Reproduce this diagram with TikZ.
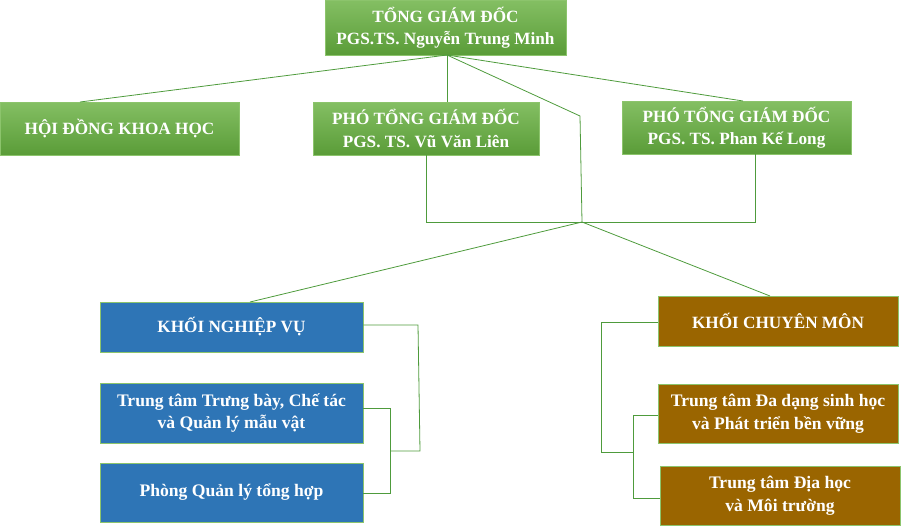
\documentclass[tikz,border=0pt]{standalone}
\usepackage{fontspec}
\setmainfont{Liberation Serif}
\usetikzlibrary{calc}
\definecolor{gtop}{HTML}{84BF63}
\definecolor{gbot}{HTML}{5A9C38}
\definecolor{bluebox}{HTML}{2E75B6}
\definecolor{brownbox}{HTML}{9A6500}
\definecolor{edgegreen}{HTML}{8CC46C}
\definecolor{linkgreen}{HTML}{4E9B3C}
\begin{document}
\begin{tikzpicture}[x=1pt,y=-1pt,
  box/.style={rectangle, inner sep=0pt, align=center, text=white,
    font=\fontsize{17.2}{22.5}\selectfont\bfseries, line width=0.8pt},
  greenbox/.style={box, draw=edgegreen, top color=gtop, bottom color=gbot},
  bluecell/.style={box, draw=edgegreen, fill=bluebox},
  browncell/.style={box, draw=edgegreen, fill=brownbox},
  subfont/.style={font=\fontsize{17.6}{22.5}\selectfont\bfseries},
  link/.style={draw=linkgreen, line width=0.8pt}]
\useasboundingbox (0,0) rectangle (904,528);
% boxes
\node[greenbox, minimum width=241pt, minimum height=55pt] (top) at (445.5,27.5) {TỔNG GIÁM ĐỐC\\PGS.TS. Nguyễn Trung Minh};
\node[greenbox, minimum width=239pt, minimum height=53pt] (hd) at (119.5,128.5) {HỘI ĐỒNG KHOA HỌC};
\node[greenbox, minimum width=226pt, minimum height=53pt] (p1) at (426,128.5) {PHÓ TỔNG GIÁM ĐỐC\\PGS. TS. Vũ Văn Liên};
\node[greenbox, minimum width=229pt, minimum height=53pt] (p2) at (736.5,127.5) {PHÓ TỔNG GIÁM ĐỐC\\PGS. TS. Phan Kế Long};
\node[bluecell, minimum width=263pt, minimum height=50pt] (knv) at (231.5,327) {KHỐI NGHIỆP VỤ};
\node[bluecell, subfont, minimum width=263pt, minimum height=60pt] (tt1) at (231.5,413) {Trung tâm Trưng bày, Chế tác\\và Quản lý mẫu vật};
\node[bluecell, subfont, minimum width=263pt, minimum height=59pt] (pql) at (231.5,492.5) {Phòng Quản lý tổng hợp};
\node[browncell, minimum width=240pt, minimum height=50pt] (kcm) at (778,321) {KHỐI CHUYÊN MÔN};
\node[browncell, subfont, minimum width=240pt, minimum height=59pt] (tt2) at (778,413.5) {Trung tâm Đa dạng sinh học\\và Phát triển bền vững};
\node[browncell, subfont, minimum width=240pt, minimum height=59pt] (tt3) at (780,495.5) {Trung tâm Địa học\\và Môi trường};
% coordinates
\coordinate (ts) at (447,55);
\coordinate (hdt) at (80,102);
\coordinate (p2t) at (743,101);
\coordinate (bend) at (580,116);
\coordinate (hub) at (582,222);
\coordinate (p1b) at (426,222);
\coordinate (p2b) at (755,222);
\coordinate (knvt) at (250,302);
\coordinate (kcmt) at (770,296);
\coordinate (nvr) at (418,325);
\coordinate (nvj) at (420,451);
\coordinate (nvb) at (390,451);
\coordinate (b1t) at (390,408);
\coordinate (b1b) at (390,493);
\coordinate (cml) at (601,322);
\coordinate (cmj) at (601,452);
\coordinate (cmb) at (633,452);
\coordinate (b2t) at (633,415);
\coordinate (b2b) at (633,498);
% connectors
\draw[link] (ts) -- (hdt);
\draw[link] (ts) -- (p2t);
\draw[link] (ts) -- (ts |- p1.north);
\draw[link] (ts) -- (bend) -- (hub);
\draw[link] (p1.south -| p1b) -- (p1b) -- (p2b) -- (p2b |- p2.south);
\draw[link] (hub) -- (knvt);
\draw[link] (hub) -- (kcmt);
\draw[link] (knv.east |- nvr) -- (nvr) -- (nvj) -- (nvb);
\draw[link] (tt1.east |- b1t) -- (b1t) -- (b1b) -- (pql.east |- b1b);
\draw[link] (kcm.west |- cml) -- (cml) -- (cmj) -- (cmb);
\draw[link] (tt2.west |- b2t) -- (b2t) -- (b2b) -- (tt3.west |- b2b);
\end{tikzpicture}
\end{document}
